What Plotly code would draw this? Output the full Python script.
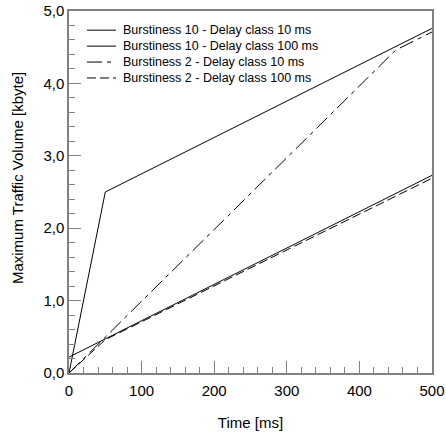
import plotly.graph_objects as go

# Data (time in ms, traffic volume in kbyte)
series_names = [
    "Burstiness 10 - Delay class 10 ms",
    "Burstiness 10 - Delay class 100 ms",
    "Burstiness 2 - Delay class 10 ms",
    "Burstiness 2 - Delay class 100 ms",
]
b10_d10_t = [0, 50, 500]
b10_d10_v = [0.0, 2.50, 4.76]
b10_d100_t = [0, 500]
b10_d100_v = [0.22, 2.73]
b2_d10_t = [0, 450, 500]
b2_d10_v = [0.0, 4.46, 4.71]
b2_d100_t = [0, 50, 500]
b2_d100_v = [0.0, 0.46, 2.69]

x_tickvals = [0, 100, 200, 300, 400, 500]
x_ticktext = ["0", "100", "200", "300", "400", "500"]
y_tickvals = [0, 1, 2, 3, 4, 5]
y_ticktext = ["0,0", "1,0", "2,0", "3,0", "4,0", "5,0"]

FONT = "Liberation Sans, Arial, sans-serif"

dashes = ["solid", "solid", "15px,5px,4px,5px", "9px,4px"]
traces = [
    (b10_d10_t, b10_d10_v),
    (b10_d100_t, b10_d100_v),
    (b2_d10_t, b2_d10_v),
    (b2_d100_t, b2_d100_v),
]

fig = go.Figure()
for name, (t, v), dash in zip(series_names, traces, dashes):
    fig.add_trace(go.Scatter(
        x=t, y=v, mode="lines", name=name, showlegend=False,
        line=dict(color="black", width=1, dash=dash),
    ))

axis_common = dict(
    showgrid=False, zeroline=False, automargin=False,
    showline=True, linecolor="#808080", linewidth=1.5, mirror=True,
    ticks="inside", ticklen=12, tickwidth=1.2, tickcolor="#808080",
    tickfont=dict(family=FONT, size=15, color="black"),
)

fig.update_xaxes(
    range=[0, 500], tickvals=x_tickvals, ticktext=x_ticktext,
    minor=dict(ticks="inside", ticklen=6, dtick=20, tickcolor="#808080", tickwidth=1.2),
    title=dict(text="Time [ms]", font=dict(family=FONT, size=15, color="black"), standoff=20),
    ticklabelstandoff=3,
    **axis_common,
)
fig.update_yaxes(
    range=[0, 5], tickvals=y_tickvals, ticktext=y_ticktext,
    minor=dict(ticks="inside", ticklen=6, dtick=0.2, tickcolor="#808080", tickwidth=1.2),
    **axis_common,
)

fig.add_annotation(
    text="Maximum Traffic Volume [kbyte]", textangle=-90,
    xref="paper", yref="paper", x=-0.14, y=0.539,
    xanchor="center", yanchor="middle",
    showarrow=False, font=dict(family=FONT, size=15, color="black"),
)

# Custom legend (compact rows like the reference)
leg_y = [0.947, 0.903, 0.859, 0.815]
for name, dash, yy in zip(series_names, dashes, leg_y):
    fig.add_shape(type="line", xref="paper", yref="paper",
                  x0=0.0496, x1=0.1295, y0=yy, y1=yy,
                  line=dict(color="black", width=1, dash=dash))
    fig.add_annotation(text=name, xref="paper", yref="paper",
                       x=0.1433, y=yy, xanchor="left", yanchor="middle",
                       showarrow=False,
                       font=dict(family=FONT, size=12.5, color="black"))

fig.update_layout(
    width=446, height=436,
    margin=dict(l=69, r=14, t=11, b=63),
    paper_bgcolor="white", plot_bgcolor="white",
    showlegend=False,
)

fig.write_html("out.html", config={"displayModeBar": False},
               post_script="document.body.style.margin='0';document.body.style.overflow='hidden';")
